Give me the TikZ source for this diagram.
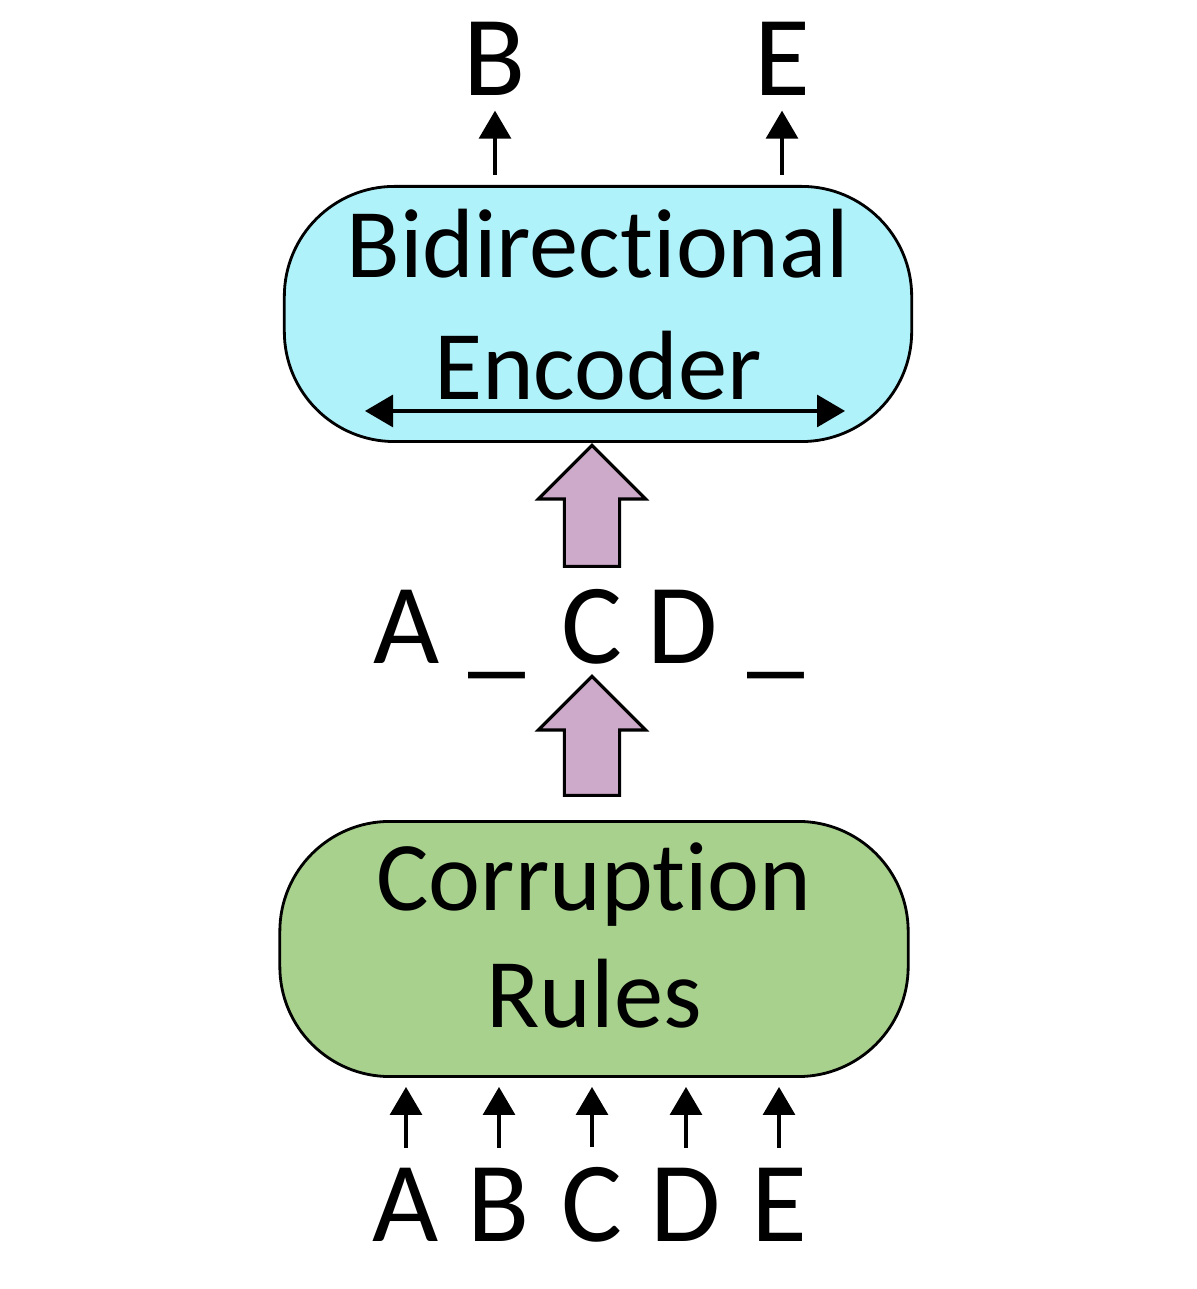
\documentclass[tikz,border=0pt]{standalone}
\usepackage{fontspec}
\setmainfont{Carlito}[Ligatures={TeX,CommonOff}]
\usetikzlibrary{arrows.meta, positioning, shapes.arrows}
\definecolor{encblue}{RGB}{176, 242, 250}
\definecolor{rulegreen}{RGB}{169, 209, 142}
\definecolor{maskpurple}{RGB}{205, 170, 201}

\begin{document}
\begin{tikzpicture}[x=0.01cm, y=0.01cm,
  box/.style={draw, line width=0.8pt, rounded corners=1.1cm, minimum height=2.55cm,
              align=center, inner sep=0pt},
  tok/.style={font=\fontsize{32.5}{39}\selectfont, inner sep=0pt, anchor=base},
  arr/.style={-{Triangle[length=2.8mm, width=3.2mm]}, line width=0.9pt},
  fat/.style={single arrow, draw, line width=0.9pt, fill=maskpurple, rotate=90,
              text height=0.26cm, text depth=0.26cm, minimum width=1.04cm,
              single arrow head extend=0.26cm, single arrow tip angle=90,
              inner sep=0pt, anchor=tail}
]
  \useasboundingbox (0,0) rectangle (1196,1289);

  % the two boxes
  \node[box, fill=encblue, minimum width=6.27cm, text depth=0.2cm,
        font=\fontsize{28}{34.7}\selectfont] (enc) at (598,975) {Bidirectional\\Encoder};
  \node[box, fill=rulegreen, minimum width=6.28cm, text depth=0.27cm,
        font=\fontsize{28}{33.3}\selectfont] (cor) at (594,340) {Corruption\\Rules};

  % encoder reads both ways
  \coordinate (lft) at (365,878);
  \coordinate (rgt) at (845,878);
  \draw[arr, {Triangle[length=2.8mm, width=3.2mm]}-{Triangle[length=2.8mm, width=3.2mm]}] (lft) -- (rgt);

  % input tokens
  \foreach \l/\x in {A/406, B/499, C/592, D/686, E/779} {
    \node[tok] (in\l) at (\x,47) {\l};
    \draw[arr, shorten <=0.2cm, shorten >=0.09cm] (in\l.north) -- (in\l.north |- cor.south);
  }

  % corrupted sequence
  \foreach \l/\x/\t in {A/407/A, B/497/\_, C/592/C, D/683/D, E/776/\_}
    \node[tok] (m\l) at (\x,625) {\t};

  \node[fat, minimum height=1.19cm] (up2) at (592,492) {};
  \node[fat, minimum height=1.21cm] (up1) at (592,721) {};

  % reconstructed outputs
  \node[tok] (outB) at (495,1193) {B};
  \node[tok] (outE) at (782,1193) {E};
  \draw[arr, shorten <=0.1cm, shorten >=0.14cm] (enc.north -| outB) -- (outB.south);
  \draw[arr, shorten <=0.1cm, shorten >=0.14cm] (enc.north -| outE) -- (outE.south);
\end{tikzpicture}
\end{document}
